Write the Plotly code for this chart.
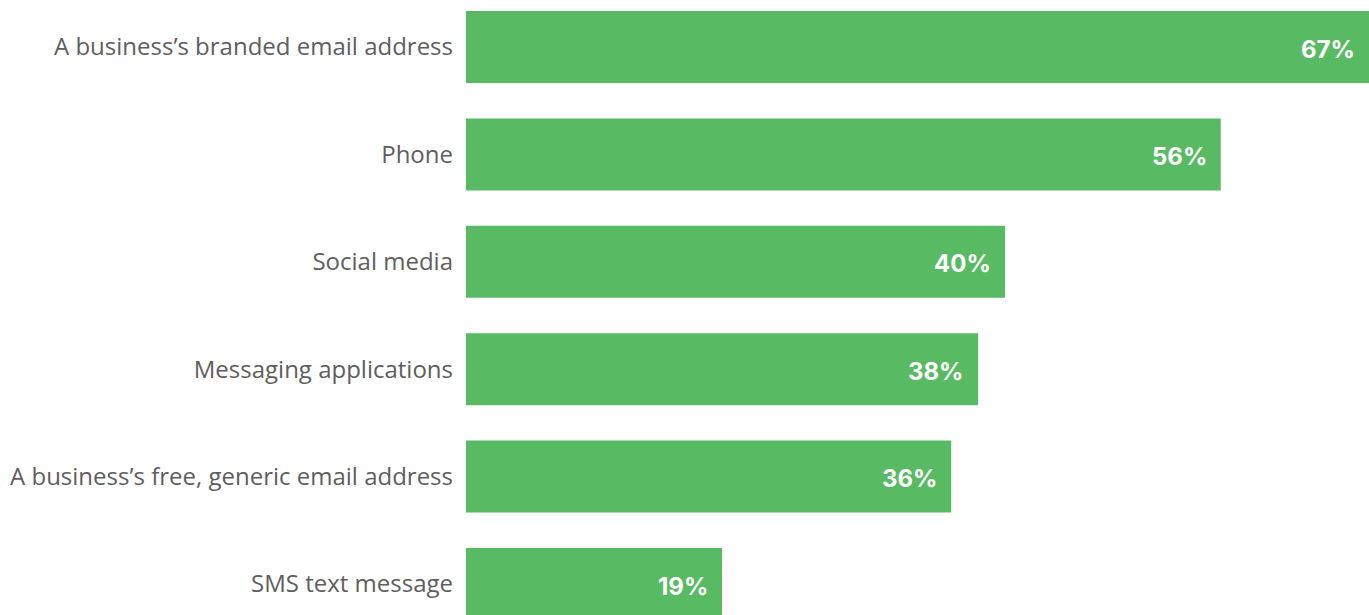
import plotly.graph_objects as go

categories = [
    "A business’s branded email address",
    "Phone",
    "Social media",
    "Messaging applications",
    "A business’s free, generic email address",
    "SMS text message",
]
values = [67, 56, 40, 38, 36, 19]

GREEN = "#58BB63"
LABEL_GRAY = "#5E5E5E"

fig = go.Figure(
    go.Bar(
        x=values,
        y=categories,
        orientation="h",
        marker=dict(color=GREEN, line=dict(width=0)),
        hoverinfo="skip",
    )
)

# value labels sit inside each bar, right-aligned near its end
for cat, v in zip(categories, values):
    fig.add_annotation(
        x=v, y=cat, xref="x", yref="y",
        text=f"<b>{v}%</b>",
        showarrow=False,
        xanchor="right", yanchor="middle",
        xshift=-12, yshift=-2,
        font=dict(family="Inter", size=24, color="white"),
    )

fig.update_layout(
    width=1369, height=615,
    margin=dict(l=466, r=0, t=0, b=0),
    paper_bgcolor="white",
    plot_bgcolor="white",
    bargap=0.33,
    showlegend=False,
    xaxis=dict(range=[0, 67.0], visible=False, fixedrange=True),
    yaxis=dict(
        categoryorder="array",
        categoryarray=categories,
        range=[5.2886, -0.4376],
        showgrid=False, zeroline=False, showline=False,
        ticks="", ticklabelstandoff=12,
        tickfont=dict(family="Open Sans", size=24, color=LABEL_GRAY),
        fixedrange=True,
    ),
)

fig.write_html("out.html")
